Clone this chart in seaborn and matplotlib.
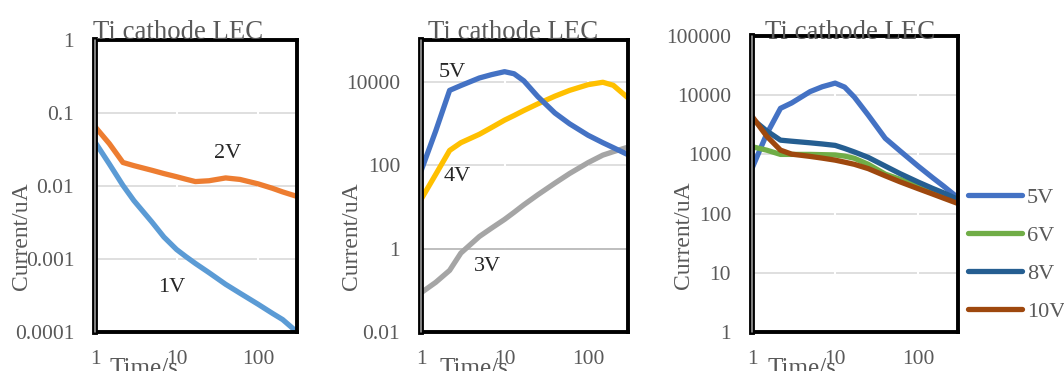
import numpy as np
import pandas as pd
import matplotlib
matplotlib.use("Agg")
import matplotlib.pyplot as plt
import seaborn as sns
from matplotlib.ticker import FixedLocator, FixedFormatter, NullLocator

# ---------------- data ----------------
times = [1, 1.5, 2.2, 3, 5, 7, 10, 13, 17, 25, 40, 60, 100, 150, 200, 300]

# panel 1
p1_1V = [0.040, 0.020, 0.0102, 0.0063, 0.0032, 0.0020, 0.00135, 0.00108, 0.00087,
         0.00065, 0.00045, 0.00034, 0.00024, 0.00018, 0.000148, 0.0001]
p1_2V = [0.065, 0.038, 0.021, 0.019, 0.0164, 0.0148, 0.0134, 0.0124, 0.0115,
         0.0118, 0.0129, 0.0123, 0.0107, 0.0093, 0.0083, 0.0072]

# panel 2
p2_3V = [0.087, 0.155, 0.30, 0.78, 1.95, 3.1, 5.0, 7.4, 11.2, 19.5, 37, 63, 115, 174, 210, 270]
p2_4V = [15, 60, 225, 345, 550, 800, 1200, 1550, 2040, 2950, 4500, 6200, 8500, 9700, 8200, 4100]
p2_5V = [72, 660, 6200, 8100, 12300, 14800, 17400, 15500, 10500, 4400, 1780, 980, 520, 345, 263, 178]

# panel 3
p3_5V = [580, 2200, 6000, 7400, 11500, 13900, 16000, 13700, 9300, 4600, 1870, 1150, 630, 400, 293, 185]
p3_6V = [1350, 1180, 1000, 1000, 1000, 990, 980, 935, 860, 680, 465, 380, 295, 240, 210, 170]
p3_8V = [4000, 2500, 1740, 1670, 1570, 1500, 1420, 1260, 1100, 890, 635, 475, 340, 265, 225, 174]
p3_10V = [4400, 2040, 1180, 1010, 925, 865, 800, 740, 680, 575, 435, 345, 263, 213, 183, 148]

x_ticks = [1, 10, 100]
x_tick_labels = ["1", "10", "100"]
p1_yticks = [0.0001, 0.001, 0.01, 0.1, 1]
p1_ylabels = ["0.0001", "0.001", "0.01", "0.1", "1"]
p2_yticks = [0.01, 1, 100, 10000]
p2_ylabels = ["0.01", "1", "100", "10000"]
p3_yticks = [1, 10, 100, 1000, 10000, 100000]
p3_ylabels = ["1", "10", "100", "1000", "10000", "100000"]

title_text = "Ti cathode LEC"
ylabel_text = "Current/uA"
xlabel_text = "Time/s"

colors = {"1V": "#5B9BD5", "2V": "#ED7D31", "3V": "#A5A5A5", "4V": "#FFC000",
          "5V": "#4472C4", "6V": "#70AD47", "8V": "#255E91", "10V": "#9E480E"}

# ---------------- style ----------------
sns.set_style("white")
plt.rcParams["font.family"] = ["Liberation Serif", "DejaVu Serif"]
GRAY = "#595959"

W, H = 1064, 371
fig = plt.figure(figsize=(W / 100, H / 100), dpi=100)
fig.patch.set_facecolor("white")


def axes_px(l, t, r, b):
    return fig.add_axes([l / W, 1 - b / H, (r - l) / W, (b - t) / H])


ax1 = axes_px(95, 40, 297, 332)
ax2 = axes_px(421, 40, 628, 332)
ax3 = axes_px(752, 36, 958, 332)


def draw(ax, series):
    frames = []
    for name, vals in series:
        frames.append(pd.DataFrame({"Time": times, "Current": vals, "Voltage": name}))
    df = pd.concat(frames, ignore_index=True)
    order = [n for n, _ in series]
    sns.lineplot(data=df, x="Time", y="Current", hue="Voltage", hue_order=order,
                 palette=[colors[n] for n in order], estimator=None, sort=False,
                 linewidth=3.8, legend=False, ax=ax, solid_capstyle="round")


def style(ax, yticks, ylabels, ylim):
    ax.set_xscale("log")
    ax.set_yscale("log")
    ax.set_xlim(1, 300)
    ax.set_ylim(*ylim)
    ax.xaxis.set_major_locator(FixedLocator(x_ticks))
    ax.xaxis.set_major_formatter(FixedFormatter(x_tick_labels))
    ax.xaxis.set_minor_locator(NullLocator())
    ax.yaxis.set_major_locator(FixedLocator(yticks))
    ax.yaxis.set_major_formatter(FixedFormatter(ylabels))
    ax.yaxis.set_minor_locator(NullLocator())
    ax.tick_params(axis="both", length=0, labelsize=15.5, labelcolor=GRAY)
    ax.tick_params(axis="x", pad=13)
    ax.tick_params(axis="y", pad=15)
    ax.grid(axis="y", color="#d9d9d9", linewidth=1.2)
    ax.set_axisbelow(True)
    for xv in x_ticks[1:]:
        ax.axvline(xv, color="white", linewidth=1.5, zorder=0.8)
    for sp in ax.spines.values():
        sp.set_visible(True)
        sp.set_color("black")
        sp.set_linewidth(2.8)
    ax.spines["left"].set_linewidth(4.2)
    # thin gray core inside the left frame line (double border look)
    ax.plot([0, 0], [0, 1], transform=ax.transAxes, color="#a6a6a6",
            linewidth=1.1, clip_on=False, zorder=3)
    ax.set_xlabel("")
    ax.set_ylabel("")


draw(ax1, [("1V", p1_1V), ("2V", p1_2V)])
style(ax1, p1_yticks, p1_ylabels, (0.0001, 1))

draw(ax2, [("3V", p2_3V), ("4V", p2_4V), ("5V", p2_5V)])
style(ax2, p2_yticks, p2_ylabels, (0.01, 100000))
ax2.axhline(1, color="#bfbfbf", linewidth=1.4, zorder=0.9)

draw(ax3, [("5V", p3_5V), ("6V", p3_6V), ("8V", p3_8V), ("10V", p3_10V)])
style(ax3, p3_yticks, p3_ylabels, (1, 100000))

# series labels in panels 1 and 2
ax1.text(0.658, 0.613, "2V", transform=ax1.transAxes, ha="center", va="center", fontsize=16)
ax1.text(0.381, 0.154, "1V", transform=ax1.transAxes, ha="center", va="center", fontsize=16)
ax2.text(0.150, 0.890, "5V", transform=ax2.transAxes, ha="center", va="center", fontsize=16)
ax2.text(0.174, 0.531, "4V", transform=ax2.transAxes, ha="center", va="center", fontsize=16)
ax2.text(0.319, 0.223, "3V", transform=ax2.transAxes, ha="center", va="center", fontsize=16)

# legend for panel 3
handles = [l for l in ax3.get_lines() if l.get_color() in
           [colors[k] for k in ("5V", "6V", "8V", "10V")]][:4]
ax3.legend(handles, ["5V", "6V", "8V", "10V"], loc="center left",
           bbox_to_anchor=(968 / W, 1 - 254.5 / H), bbox_transform=fig.transFigure,
           frameon=False, fontsize=16, labelcolor=GRAY, handlelength=2.45,
           handletextpad=0.2, labelspacing=0.78, borderpad=0, borderaxespad=0)

# titles, axis labels
for x0 in (93, 428, 765):
    fig.text(x0 / W, 1 - 39 / H, title_text, ha="left", va="baseline",
             fontsize=19.3, color=GRAY)
for xc, yc in ((22, 236), (352, 236), (684, 235)):
    fig.text(xc / W, 1 - yc / H, ylabel_text, rotation=90, ha="center", va="center",
             fontsize=17, color=GRAY)
for x0 in (110, 440, 767):
    fig.text(x0 / W, 1 - 375 / H, xlabel_text, ha="left", va="baseline",
             fontsize=18, color=GRAY)

fig.savefig("out.png", dpi=100, facecolor="white")
